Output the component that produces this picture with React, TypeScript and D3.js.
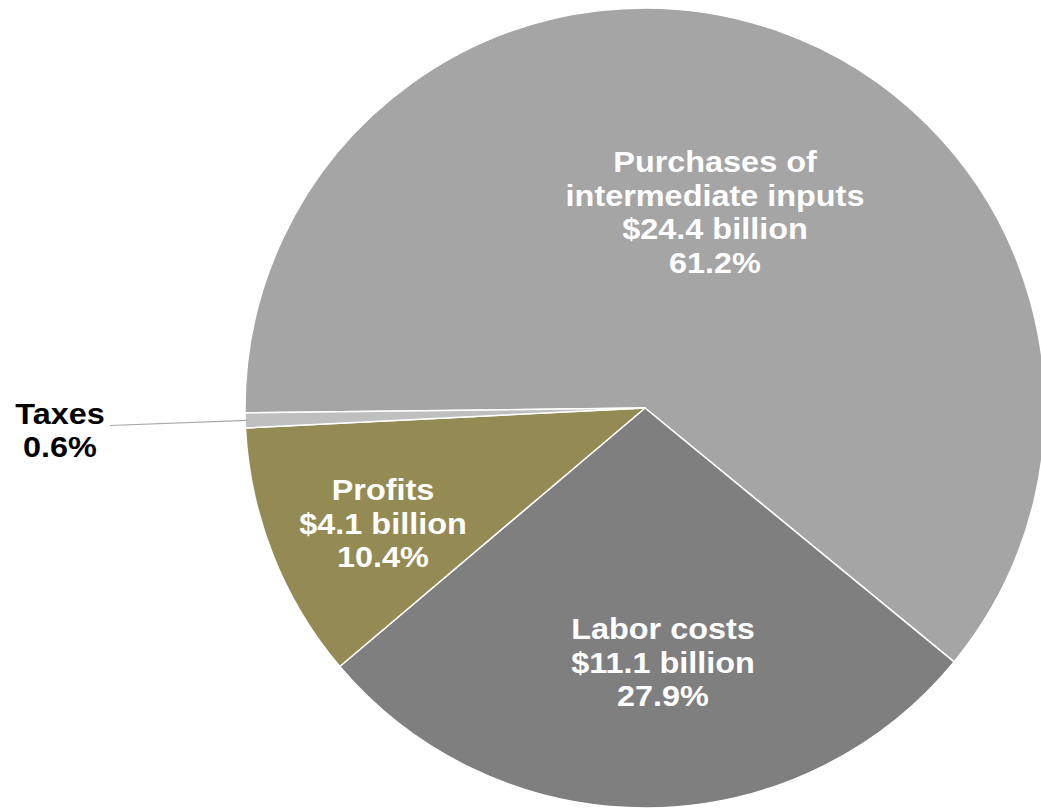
import React from "react";
import * as d3 from "d3";

const categories = ["Purchases of intermediate inputs", "Labor costs", "Profits", "Taxes"];
const values = [61.2, 27.9, 10.4, 0.6];
const labelLines = [
  ["Purchases of", "intermediate inputs", "$24.4 billion", "61.2%"],
  ["Labor costs", "$11.1 billion", "27.9%"],
  ["Profits", "$4.1 billion", "10.4%"],
  ["Taxes", "0.6%"],
];
const colors = ["#a5a5a5", "#7f7f7f", "#948a54", "#bfbfbf"];

const W = 1041;
const H = 808;
const cx = 645;
const cy = 408;
const R = 400;
const startDeg = -90.7;

export default function App() {
  const pie = d3
    .pie<number>()
    .sort(null)
    .value((d) => d)
    .startAngle((startDeg * Math.PI) / 180)
    .endAngle(((startDeg + 360) * Math.PI) / 180);
  const arcs = pie(values);
  const arc = d3.arc<d3.PieArcDatum<number>>().innerRadius(0).outerRadius(R);
  const lineH = 33.5;
  const labelPos: [number, number][] = [
    [715, 212],
    [663, 662],
    [383, 523],
    [60, 430],
  ];
  const taxArc = arcs[3];
  const taxMid = (taxArc.startAngle + taxArc.endAngle) / 2;
  const edge = [cx + Math.sin(taxMid) * R, cy - Math.cos(taxMid) * R];
  return (
    <svg
      width={W}
      height={H}
      style={{ position: "absolute", left: 0, top: 0, background: "#fff" }}
      fontFamily="'Liberation Sans', Arial, sans-serif"
    >
      <g transform={`translate(${cx},${cy})`}>
        {arcs.map((a, i) => (
          <path key={categories[i]} d={arc(a) || ""} fill={colors[i]} stroke="#ffffff" strokeWidth={1.5} strokeLinejoin="round" />
        ))}
      </g>
      <line x1={110} y1={425.5} x2={edge[0] + 2} y2={edge[1]} stroke="#a6a6a6" strokeWidth={1.2} />
      {labelLines.map((lines, i) => {
        const [x, y] = labelPos[i];
        const n = lines.length;
        const y0 = -((n - 1) * lineH) / 2;
        return (
          <g key={categories[i]} transform={`translate(${x},${y}) scale(1.08,1)`}>
            <text
              x={0}
              textAnchor="middle"
              fontSize={30}
              fontWeight="bold"
              fill={i === 3 ? "#000000" : "#ffffff"}
            >
              {lines.map((l, j) => (
                <tspan key={j} x={0} y={y0 + j * lineH} dy="0.35em">
                  {l}
                </tspan>
              ))}
            </text>
          </g>
        );
      })}
    </svg>
  );
}
